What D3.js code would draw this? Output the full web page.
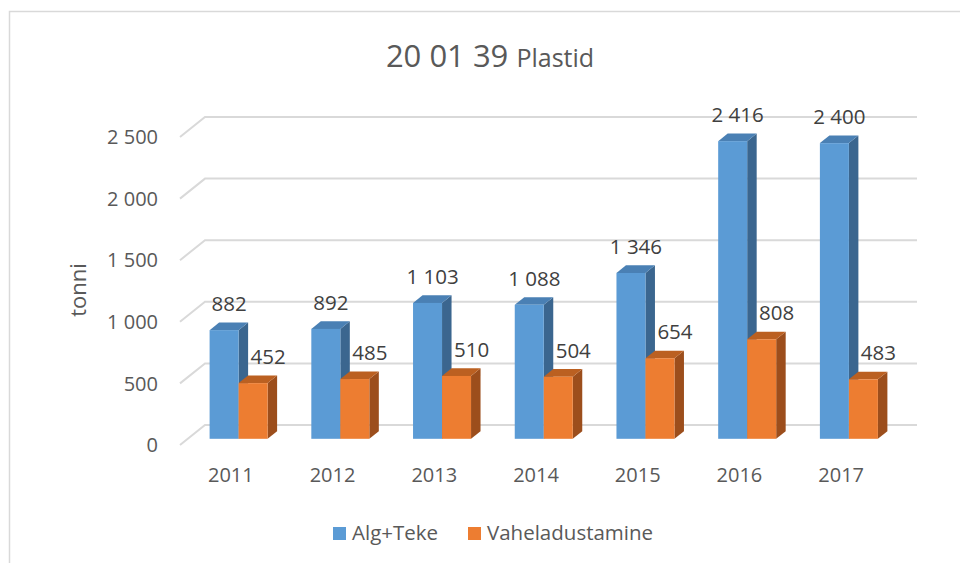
<!DOCTYPE html>
<html>
<head>
<meta charset="utf-8">
<script src="https://cdn.jsdelivr.net/npm/d3@7"></script>
<style>
  body { margin: 0; background: #fff; }
  text { font-family: "Open Sans", sans-serif; }
</style>
</head>
<body>
<div id="chart"></div>
<script>
// DATA
var years = ["2011", "2012", "2013", "2014", "2015", "2016", "2017"];
var series = ["Alg+Teke", "Vaheladustamine"];
var algTeke = [882, 892, 1103, 1088, 1346, 2416, 2400];
var vahe = [452, 485, 510, 504, 654, 808, 483];
var yTicks = [0, 500, 1000, 1500, 2000, 2500];

// COLORS: front, side, top
var colors = [
    {front: "#5b9bd5", side: "#3b668f", top: "#4a80b4"},
    {front: "#ed7d31", side: "#9c4e1c", top: "#bb6021"}
];

var W = 960, H = 563;
var svg = d3.select("#chart").append("svg")
    .attr("width", W).attr("height", H);

// CHART FRAME
svg.append("rect")
    .attr("x", 9.5).attr("y", 11.5)
    .attr("width", W).attr("height", H)
    .attr("fill", "none")
    .attr("stroke", "#d9d9d9")
    .attr("stroke-width", 1.5);

// 3D SETUP: wall depth and bar depth
var DX = 25, DY = -20;          // floor depth vector
var barDepth = 0.38;            // share of floor depth
var barPos = (1 - barDepth) / 2; // bar front plane

var x0 = d3.scaleBand().domain(years).range([180, 892]);
var groupW = 58;
var x1 = d3.scaleBand().domain(series).range([0, groupW]);
var y = d3.scaleLinear().domain([0, 2500]).range([445, 137]);

// GRIDLINES (diagonal + back wall)
var grid = svg.append("g");
yTicks.forEach(function(t) {
    grid.append("path")
        .attr("d", "M" + 180 + "," + y(t) +
                   "L" + (180 + DX) + "," + (y(t) + DY) +
                   "L" + 917 + "," + (y(t) + DY))
        .attr("fill", "none")
        .attr("stroke", "#d9d9d9")
        .attr("stroke-width", 2);
});

// Y AXIS LABELS
svg.append("g").selectAll("text")
    .data(yTicks).enter().append("text")
    .attr("x", 158)
    .attr("y", function(d) { return y(d); })
    .attr("dy", "0.36em")
    .attr("text-anchor", "end")
    .attr("font-size", 20)
    .attr("fill", "#595959")
    .text(function(d) { return d3.format(",")(d).replace(/,/g, " "); });

// Y TITLE
svg.append("text")
    .attr("transform", "translate(86,290) rotate(-90)")
    .attr("text-anchor", "middle")
    .attr("font-size", 22)
    .attr("fill", "#595959")
    .text("tonni");

// X LABELS
svg.append("g").selectAll("text")
    .data(years).enter().append("text")
    .attr("x", function(d) { return x0(d) + x0.bandwidth() / 2; })
    .attr("y", 482)
    .attr("text-anchor", "middle")
    .attr("font-size", 20)
    .attr("fill", "#595959")
    .text(function(d) { return d; });

// BARS
var bdx = DX * barDepth, bdy = DY * barDepth;
var ox = DX * barPos, oy = DY * barPos;
var bars = [];
years.forEach(function(yr, i) {
    [algTeke[i], vahe[i]].forEach(function(v, s) {
        var xl = x0(yr) + (x0.bandwidth() - groupW) / 2 + x1(series[s]) + ox;
        bars.push({year: yr, s: s, v: v, xl: xl, xr: xl + x1.bandwidth(),
                   yt: y(v) + oy, yb: y(0) + oy});
    });
});

var gBars = svg.append("g");
bars.forEach(function(b) {
    var c = colors[b.s];
    var g = gBars.append("g");
    g.append("path")
        .attr("d", "M" + b.xr + "," + b.yb + "L" + (b.xr + bdx) + "," + (b.yb + bdy) +
                   "L" + (b.xr + bdx) + "," + (b.yt + bdy) + "L" + b.xr + "," + b.yt + "Z")
        .attr("fill", c.side);
    g.append("path")
        .attr("d", "M" + b.xl + "," + b.yt + "L" + (b.xl + bdx) + "," + (b.yt + bdy) +
                   "L" + (b.xr + bdx) + "," + (b.yt + bdy) + "L" + b.xr + "," + b.yt + "Z")
        .attr("fill", c.top);
    g.append("rect")
        .attr("x", b.xl).attr("y", b.yt)
        .attr("width", b.xr - b.xl).attr("height", b.yb - b.yt)
        .attr("fill", c.front);
});

// DATA LABELS
svg.append("g").selectAll("text")
    .data(bars).enter().append("text")
    .attr("x", function(d) { return (d.xl + d.xr) / 2 + (d.s == 0 ? 5 : 15); })
    .attr("y", function(d) { return d.yt - 19; })
    .attr("text-anchor", "middle")
    .attr("font-size", 20.5)
    .attr("fill", "#404040")
    .text(function(d) { return d3.format(",")(d.v).replace(/,/g, " "); });

// TITLE
var title = svg.append("text")
    .attr("x", 490).attr("y", 67)
    .attr("text-anchor", "middle")
    .attr("fill", "#595959");
title.append("tspan").attr("font-size", 31).text("20 01 39 ");
title.append("tspan").attr("font-size", 25).text("Plastid");

// LEGEND
var legX = [333, 468];
var leg = svg.append("g");
series.forEach(function(name, i) {
    leg.append("rect")
        .attr("x", legX[i]).attr("y", 527)
        .attr("width", 13).attr("height", 13)
        .attr("fill", colors[i].front);
    leg.append("text")
        .attr("x", legX[i] + 19).attr("y", 540)
        .attr("font-size", 20.5)
        .attr("fill", "#595959")
        .text(name);
});
</script>
</body>
</html>
